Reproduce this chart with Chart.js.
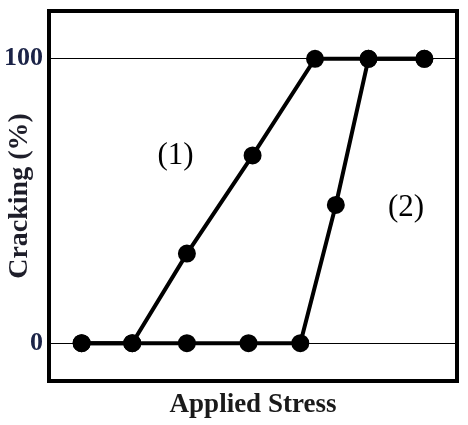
<!DOCTYPE html>
<html lang="en">
<head>
    <meta charset="UTF-8">
    <title>Cracking vs Applied Stress</title>
    <script src="https://cdn.jsdelivr.net/npm/chart.js"></script>
    <style>
        body { margin: 0; background: #fff; }
        #wrap { width: 468px; height: 425px; }
    </style>
</head>
<body>
    <div id="wrap"><canvas id="crackChart" width="468" height="425"></canvas></div>
    <script>
        // values (stress in arbitrary units, cracking in %)
        const stress1 = [8, 20.4, 33.8, 49.9, 65.2, 78.3, 92.0];
        const cracking1 = [0, 0, 31.5, 66, 100, 100, 100];
        const stress2 = [8, 20.4, 33.8, 48.9, 61.6, 70.3, 78.3, 92.0];
        const cracking2 = [0, 0, 0, 0, 0, 48.6, 100, 100];
        const yTicks = [0, 100];
        const curveLabels = ['(1)', '(2)'];
        const labelAt = [[31, 65.8], [87.5, 47.6]];

        const toPoints = (xs, ys) => xs.map((x, i) => ({ x: x, y: ys[i] }));
        const navy = '#1b2347';

        // frame round the plot + curve labels
        const framePlugin = {
            id: 'frame',
            afterDraw(chart) {
                const { ctx, chartArea: a, scales } = chart;
                ctx.save();
                ctx.strokeStyle = '#000';
                ctx.lineWidth = 4;
                ctx.strokeRect(a.left, a.top, a.right - a.left, a.bottom - a.top);
                ctx.fillStyle = '#000';
                ctx.font = '31px "Liberation Serif"';
                ctx.textAlign = 'center';
                ctx.textBaseline = 'middle';
                curveLabels.forEach((t, i) => {
                    ctx.fillText(t, scales.x.getPixelForValue(labelAt[i][0]), scales.y.getPixelForValue(labelAt[i][1]));
                });
                ctx.restore();
            }
        };

        new Chart(document.getElementById('crackChart'), {
            type: 'scatter',
            data: {
                datasets: [{
                    data: toPoints(stress2, cracking2),
                    showLine: true,
                    borderColor: '#000',
                    backgroundColor: '#000',
                    borderWidth: 4,
                    pointRadius: 7,
                    pointHoverRadius: 7
                }, {
                    data: toPoints(stress1, cracking1),
                    showLine: true,
                    borderColor: '#000',
                    backgroundColor: '#000',
                    borderWidth: 4,
                    pointRadius: 7,
                    pointHoverRadius: 7
                }]
            },
            options: {
                responsive: false,
                animation: false,
                layout: { padding: { top: 9, right: 8 } },
                plugins: { legend: { display: false }, tooltip: { enabled: false } },
                scales: {
                    x: {
                        min: 0, max: 100,
                        grid: { display: false },
                        border: { display: false },
                        ticks: { display: false },
                        title: {
                            display: true,
                            text: 'Applied Stress',
                            color: '#1a1a1a',
                            font: { family: 'Liberation Serif', size: 27, weight: 'bold' },
                            padding: { top: 4 }
                        },
                        afterFit: s => { s.height = 44; }
                    },
                    y: {
                        min: -13.3, max: 116.8,
                        afterBuildTicks: s => { s.ticks = yTicks.map(v => ({ value: v })); },
                        grid: { color: '#000', lineWidth: 1, drawTicks: false },
                        border: { display: false },
                        ticks: {
                            color: navy,
                            padding: 6,
                            font: { family: 'Liberation Serif', size: 26, weight: 'bold' }
                        },
                        title: {
                            display: true,
                            text: 'Cracking (%)',
                            color: '#1e1e2a',
                            font: { family: 'Liberation Serif', size: 28, weight: 'bold' },
                            padding: { top: 3 }
                        },
                        afterFit: s => {
                            s.width = 49;
                            s.paddingTop = 0;
                            s.paddingBottom = 0;
                        }
                    }
                }
            },
            plugins: [framePlugin]
        });
    </script>
</body>
</html>
